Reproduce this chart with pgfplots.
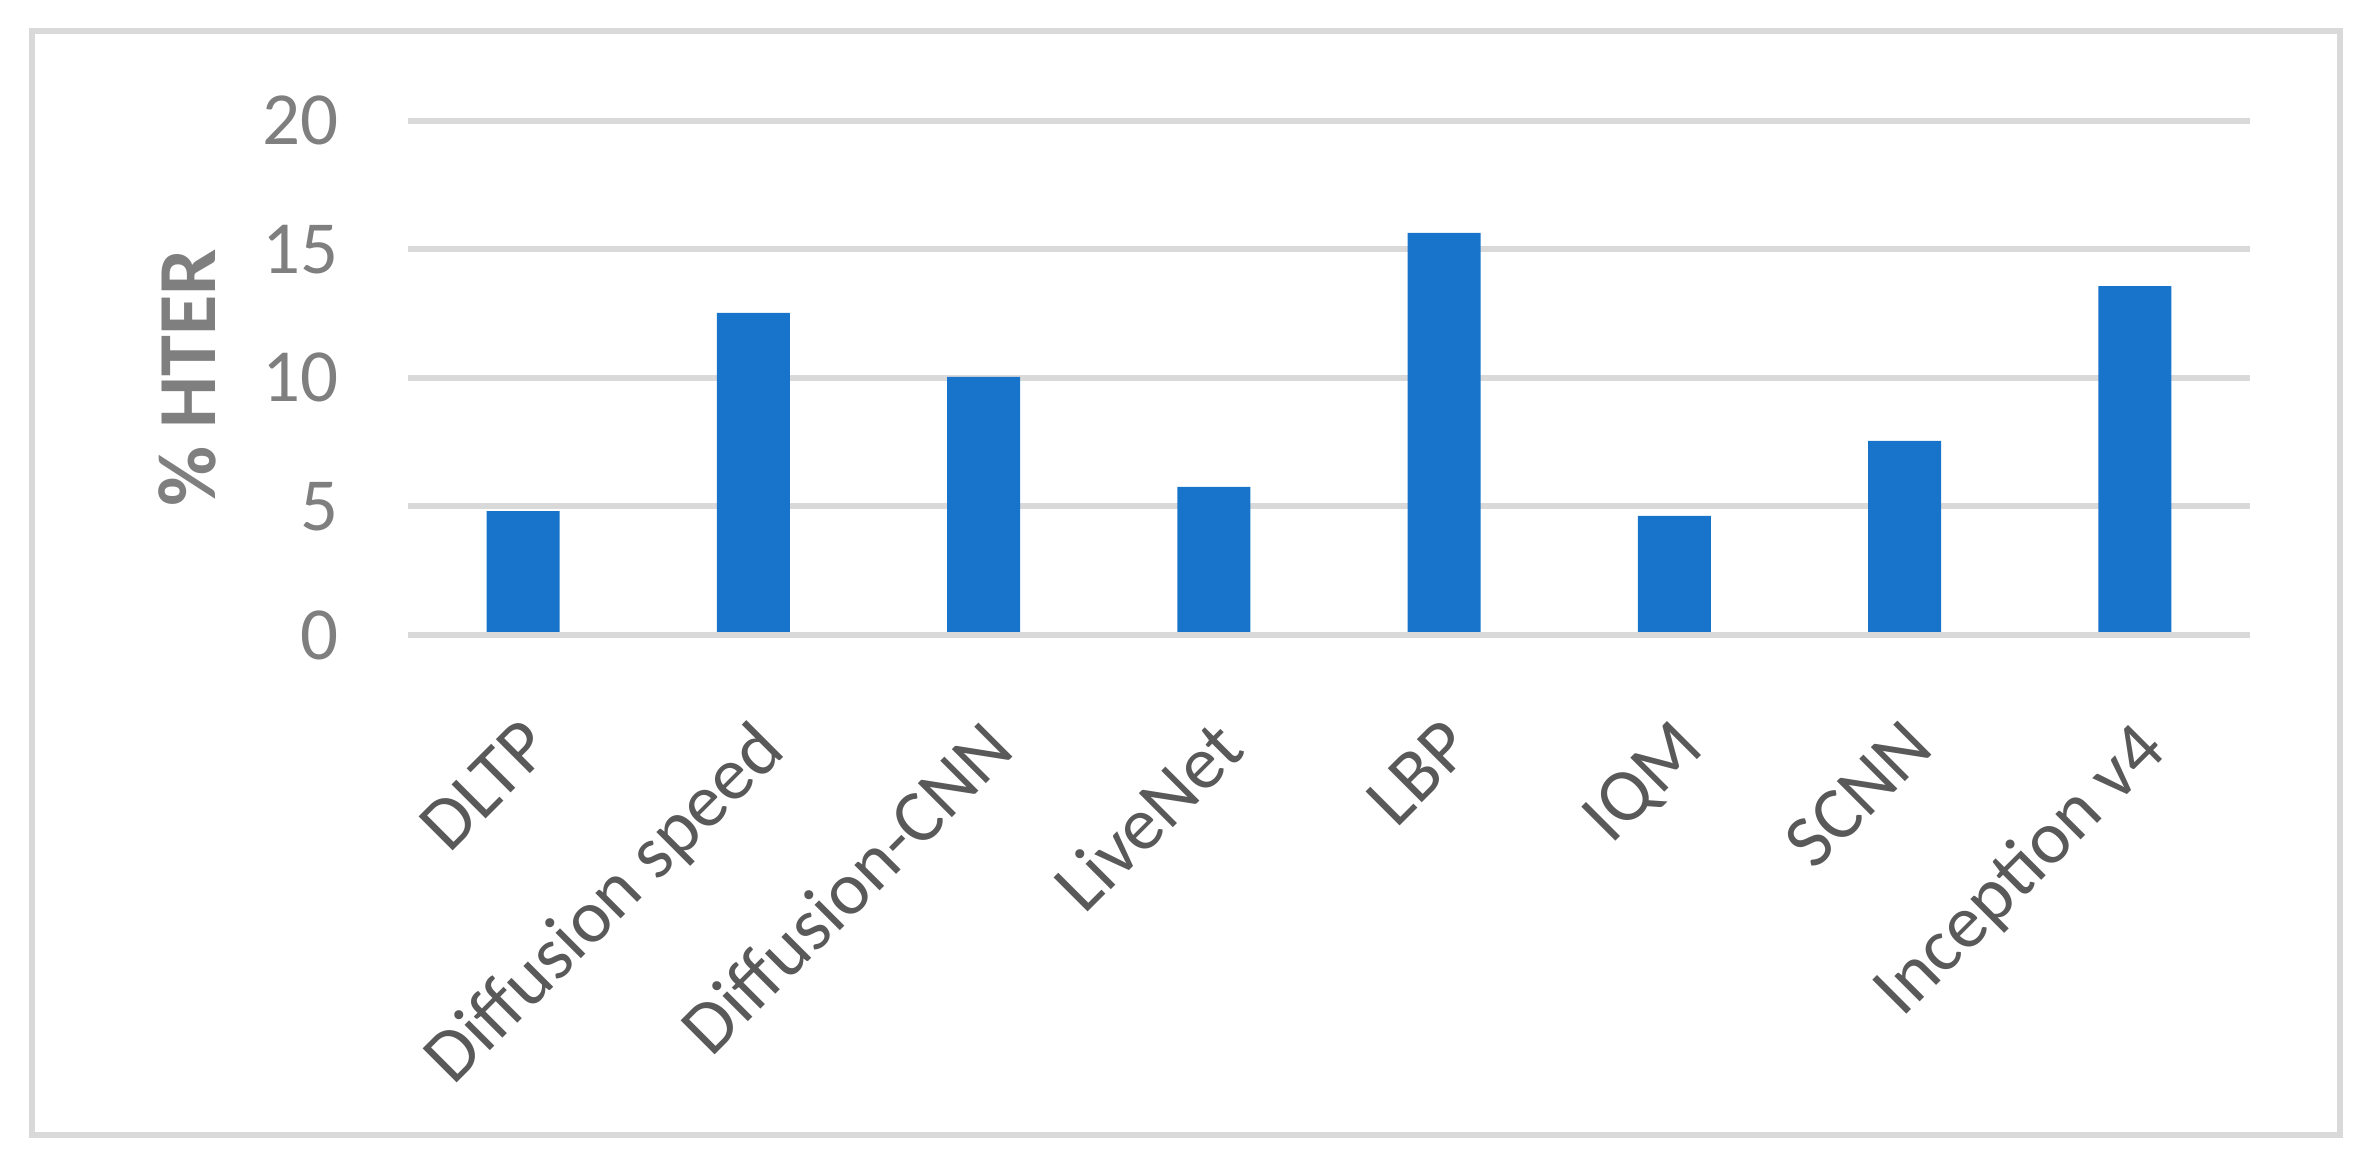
\documentclass[border=0pt]{standalone}
\usepackage{fontspec}
\setmainfont{Carlito}
\usepackage{pgfplots}
\pgfplotsset{compat=1.18}
\definecolor{barblue}{RGB}{24,116,202}
\definecolor{gridgray}{RGB}{217,217,217}
\definecolor{ticklab}{RGB}{127,127,127}
\definecolor{xlab}{RGB}{89,89,89}
\begin{document}
\begin{tikzpicture}
\useasboundingbox (0,0) rectangle (472.8pt,234.2pt);
\draw[gridgray, line width=1.2pt] (6.4pt,7.2pt) rectangle (468pt,228.1pt);
\begin{axis}[
  at={(81.6pt,107.2pt)}, anchor=south west,
  scale only axis, width=368.4pt, height=102.9pt,
  ybar, bar width=14.6pt,
  xmin=-0.5, xmax=7.5, ymin=0, ymax=20,
  xtick={0,...,7},
  xticklabels={DLTP,Diffusion speed,Diffusion-CNN,LiveNet,LBP,IQM,SCNN,Inception v4},
  ytick={0,5,10,15,20},
  /pgf/number format/assume math mode=true,
  axis line style={draw=none},
  major tick length=0pt,
  ymajorgrids, major grid style={draw=gridgray, line width=1.2pt},
  xticklabel style={font=\fontsize{15}{18}\selectfont, text=xlab, inner sep=0pt, xshift=-0.6pt, yshift=-16pt, rotate=45, anchor=north east},
  yticklabel style={font=\fontsize{15}{18}\selectfont, text=ticklab, inner sep=0pt, anchor=east, xshift=-13.6pt},
  ylabel={\% HTER},
  every axis y label/.style={at={(axis description cs:0,0.5)}, anchor=center, xshift=-44.2pt, rotate=90, font=\fontsize{16.5}{20}\selectfont\bfseries, text=ticklab},
]
\addplot[fill=barblue, draw=none, bar shift=0pt] coordinates {
  (0,4.82) (1,12.52) (2,10.04) (3,5.76) (4,15.63) (5,4.63) (6,7.55) (7,13.56)
};
\draw[gridgray, line width=1.2pt] (axis cs:-0.5,0) -- (axis cs:7.5,0);
\end{axis}
\end{tikzpicture}
\end{document}
